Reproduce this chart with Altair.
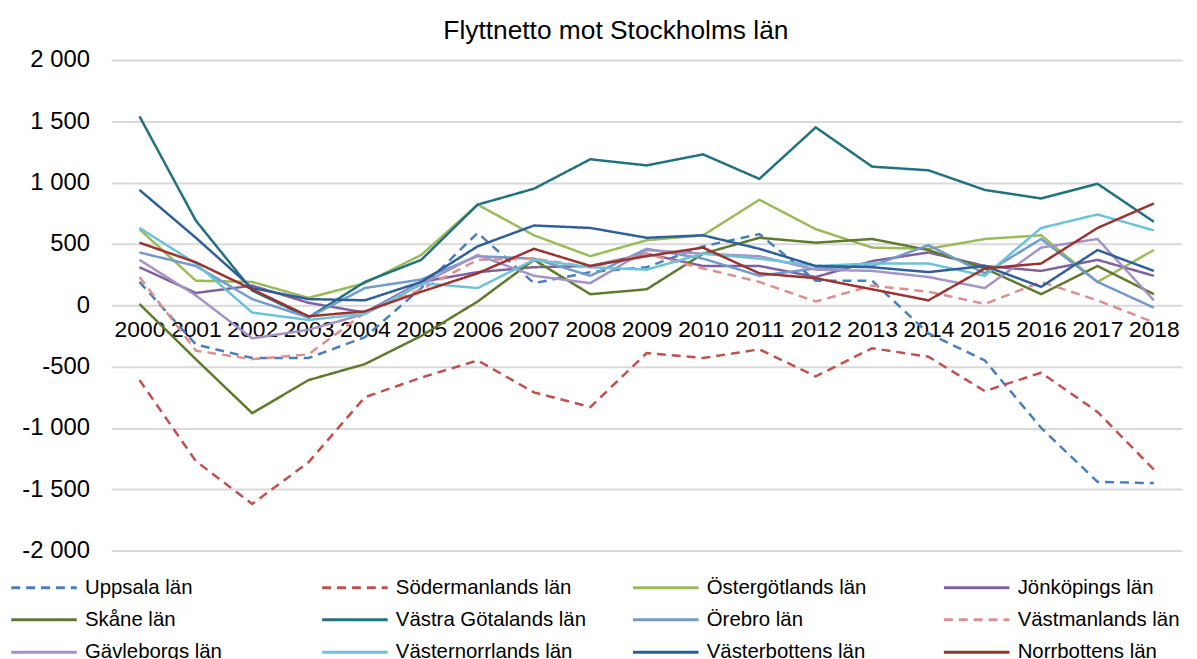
import altair as alt
import pandas as pd

years = [str(y) for y in range(2000, 2019)]

series_names = [
    "Uppsala län", "Södermanlands län", "Östergötlands län", "Jönköpings län",
    "Skåne län", "Västra Götalands län", "Örebro län", "Västmanlands län",
    "Gävleborgs län", "Västernorrlands län", "Västerbottens län", "Norrbottens län",
]

uppsala = [190, -320, -430, -430, -260, 140, 590, 180, 270, 310, 480, 580, 200, 200, -230, -450, -1000, -1440, -1450]
sodermanland = [-610, -1270, -1620, -1280, -750, -590, -450, -710, -830, -390, -430, -360, -580, -350, -420, -700, -550, -870, -1340]
ostergotland = [620, 200, 190, 60, 180, 410, 820, 570, 400, 530, 570, 860, 620, 470, 460, 540, 570, 190, 450]
jonkoping = [310, 100, 160, 20, -60, 190, 270, 310, 320, 420, 320, 320, 230, 360, 430, 320, 280, 370, 240]
skane = [10, -440, -880, -610, -480, -250, 30, 370, 90, 130, 420, 550, 510, 540, 450, 300, 90, 320, 90]
vastra_gotaland = [1540, 690, 120, -100, 190, 370, 820, 950, 1190, 1140, 1230, 1030, 1450, 1130, 1100, 940, 870, 990, 680]
orebro = [430, 320, 50, -100, 140, 210, 400, 380, 240, 460, 380, 240, 300, 320, 490, 260, 540, 190, -20]
vastmanland = [230, -370, -440, -400, -60, 130, 370, 380, 310, 420, 300, 190, 30, 160, 110, 10, 190, 40, -140]
gavleborg = [370, 80, -270, -200, -70, 170, 410, 240, 180, 450, 420, 400, 290, 280, 230, 140, 470, 540, 40]
vasternorrland = [630, 340, -60, -120, -70, 180, 140, 370, 310, 290, 420, 380, 320, 340, 340, 240, 630, 740, 610]
vasterbotten = [940, 550, 140, 50, 40, 190, 480, 650, 630, 550, 570, 460, 320, 310, 270, 320, 150, 450, 280]
norrbotten = [510, 350, 130, -90, -50, 110, 260, 460, 320, 400, 470, 260, 220, 130, 40, 300, 340, 630, 830]

all_values = [uppsala, sodermanland, ostergotland, jonkoping, skane, vastra_gotaland,
              orebro, vastmanland, gavleborg, vasternorrland, vasterbotten, norrbotten]

colors = ["#4a7ebb", "#c0504d", "#9bbb59", "#7f60a0", "#5f7a2c", "#22717f",
          "#729aca", "#dc8f8d", "#a493c6", "#6cc2d6", "#2f5f99", "#9a3431"]
dashes = [[9, 6], [9, 6], [1, 0], [1, 0], [1, 0], [1, 0],
          [1, 0], [9, 6], [1, 0], [1, 0], [1, 0], [1, 0]]

rows = []
for name, vals in zip(series_names, all_values):
    for y, v in zip(years, vals):
        rows.append({"år": y, "län": name, "värde": v})
df = pd.DataFrame(rows)

FONT = "Liberation Sans"

leg = alt.Legend(title=None)

chart = alt.Chart(df).mark_line(strokeWidth=2.5).encode(
    x=alt.X("år:O", sort=years,
            scale=alt.Scale(type="point", padding=0.5),
            axis=alt.Axis(title=None, labelAngle=0, ticks=False, domain=False, grid=False,
                          offset=-247, labelPadding=13, labelFontSize=23, labelFont=FONT,
                          labelColor="black")),
    y=alt.Y("värde:Q",
            scale=alt.Scale(domain=[-2000, 2000], nice=False, zero=False),
            axis=alt.Axis(title=None, values=list(range(-2000, 2001, 500)), ticks=False,
                          domain=False, grid=True, gridColor="#d9d9d9", gridWidth=2,
                          labelFontSize=24, labelFont=FONT, labelColor="black", labelPadding=22,
                          labelExpr="replace(replace(format(datum.value, ','), ',', ' '), '\u2212', '-')")),
    color=alt.Color("län:N", scale=alt.Scale(domain=series_names, range=colors), legend=leg),
    strokeDash=alt.StrokeDash("län:N", scale=alt.Scale(domain=series_names, range=dashes), legend=leg),
    order=alt.Order("år:O"),
).properties(
    width=1078,
    height=494,
    title=alt.TitleParams("Flyttnetto mot Stockholms län", fontSize=26.5, font=FONT,
                          fontWeight="normal", color="black", anchor="middle", dx=-31, offset=4),
    autosize=alt.AutoSizeParams(type="none"),
    padding={"left": 104, "top": 50, "right": 7, "bottom": 120},
).configure_view(stroke=None).configure_legend(
    orient="none", legendX=-78, legendY=521, direction="horizontal", columns=4,
    symbolType="M-4,0H4", symbolSize=272, symbolStrokeWidth=3,
    labelFontSize=20.5, labelFont=FONT, labelColor="black", labelOffset=31, labelLimit=400,
    gridAlign="all", columnPadding=41, rowPadding=11.5,
)

chart.save("out.html", embed_options={"renderer": "svg", "actions": False})
